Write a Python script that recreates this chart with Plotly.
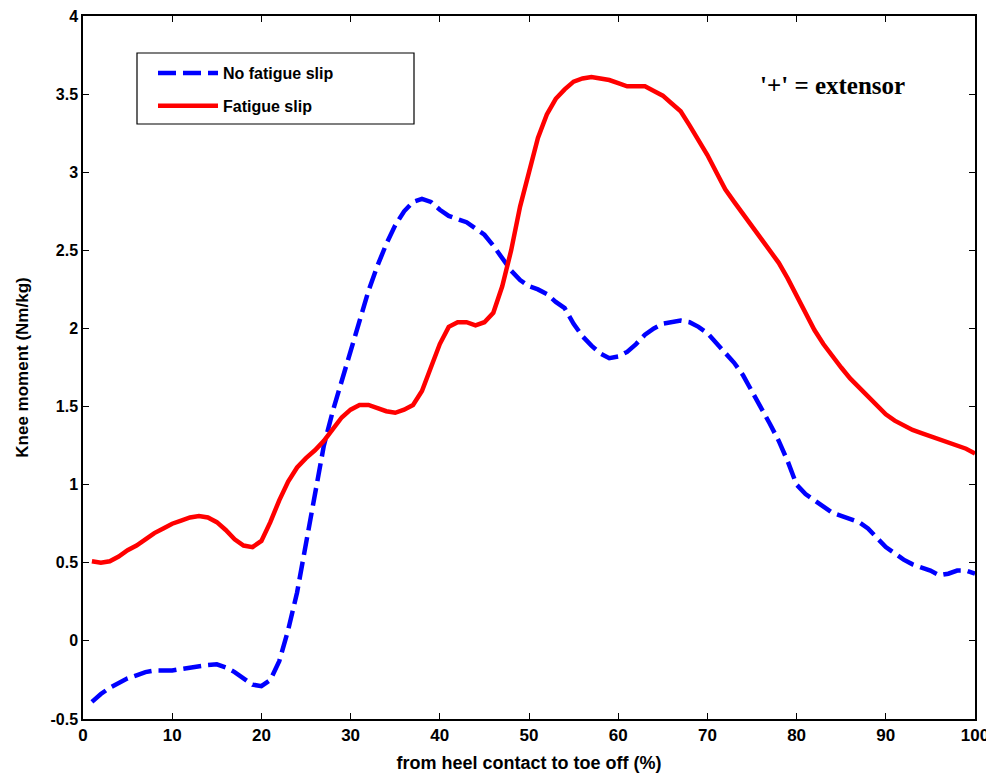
import plotly.graph_objects as go

x_pct = list(range(1, 101))

no_fatigue = [
    -0.39, -0.34, -0.30, -0.27, -0.24, -0.22, -0.20, -0.19, -0.19, -0.19,
    -0.18, -0.17, -0.16, -0.155, -0.15, -0.17, -0.20, -0.24, -0.28, -0.29,
    -0.25, -0.13, 0.07, 0.31, 0.62, 0.95, 1.25, 1.47, 1.66, 1.87,
    2.06, 2.24, 2.40, 2.54, 2.66, 2.75, 2.81, 2.83, 2.81, 2.76,
    2.72, 2.70, 2.68, 2.64, 2.60, 2.53, 2.45, 2.37, 2.31, 2.27,
    2.25, 2.22, 2.17, 2.13, 2.03, 1.95, 1.89, 1.84, 1.81, 1.82,
    1.85, 1.90, 1.96, 2.00, 2.03, 2.04, 2.05, 2.04, 2.01, 1.97,
    1.91, 1.85, 1.78, 1.70, 1.60, 1.50, 1.39, 1.28, 1.15, 1.00,
    0.94, 0.90, 0.86, 0.82, 0.80, 0.78, 0.76, 0.72, 0.66, 0.60,
    0.56, 0.52, 0.49, 0.47, 0.45, 0.42, 0.43, 0.45, 0.45, 0.43,
]

fatigue = [
    0.51, 0.50, 0.51, 0.54, 0.58, 0.61, 0.65, 0.69, 0.72, 0.75,
    0.77, 0.79, 0.80, 0.79, 0.76, 0.71, 0.65, 0.61, 0.60, 0.64,
    0.76, 0.90, 1.02, 1.11, 1.17, 1.22, 1.28, 1.35, 1.43, 1.48,
    1.51, 1.51, 1.49, 1.47, 1.46, 1.48, 1.51, 1.60, 1.75, 1.90,
    2.01, 2.04, 2.04, 2.02, 2.04, 2.10, 2.27, 2.50, 2.78, 3.00,
    3.22, 3.37, 3.47, 3.53, 3.58, 3.60, 3.61, 3.60, 3.59, 3.57,
    3.55, 3.55, 3.55, 3.52, 3.49, 3.44, 3.39, 3.30, 3.21, 3.11,
    3.00, 2.89, 2.81, 2.73, 2.66, 2.58, 2.50, 2.42, 2.32, 2.21,
    2.09, 1.99, 1.90, 1.82, 1.75, 1.68, 1.62, 1.56, 1.51, 1.45,
    1.41, 1.38, 1.35, 1.33, 1.31, 1.29, 1.27, 1.25, 1.23, 1.20,
]

x_ticks = [0, 10, 20, 30, 40, 50, 60, 70, 80, 90, 100]
x_ticktext = [str(v) for v in x_ticks]
y_ticks = [-0.5, 0, 0.5, 1, 1.5, 2, 2.5, 3, 3.5, 4]
y_ticktext = ["-0.5", "0", "0.5", "1", "1.5", "2", "2.5", "3", "3.5", "4"]

series_names = ["No fatigue slip", "Fatigue slip"]
annotation_text = "'+' = extensor"
x_title = "from heel contact to toe off (%)"
y_title = "Knee moment (Nm/kg)"

SANS = "Liberation Sans, Arial, sans-serif"

fig = go.Figure()
fig.add_trace(go.Scatter(
    x=x_pct, y=no_fatigue, mode="lines", name="<b>" + series_names[0] + "</b>",
    legendgroup="a",
    line=dict(color="#0000FF", width=4.5, dash="18px,7px"),
))
fig.add_trace(go.Scatter(
    x=x_pct, y=fatigue, mode="lines", name="<b>" + series_names[1] + "</b>",
    legendgroup="b",
    line=dict(color="#FF0000", width=4.5),
))

# plot area (page px): left 83, right 975, top 16, bottom 719; page body margin is 8px
PL, PR, PT, PB = 83, 975, 16, 719
PW, PH = PR - PL, PB - PT

fig.update_layout(
    width=986, height=766,
    margin=dict(l=75, r=19, t=8, b=55, autoexpand=False),
    paper_bgcolor="white", plot_bgcolor="white",
    showlegend=True,
    legend=dict(
        x=(153 - PL) / PW, y=(PB - 56) / PH, xanchor="left", yanchor="top",
        bgcolor="rgba(0,0,0,0)", borderwidth=0,
        font=dict(family=SANS, size=16, color="black"),
        itemwidth=60, tracegroupgap=9, traceorder="grouped",
    ),
    xaxis=dict(
        range=[0, 100], tickvals=x_ticks, ticktext=["<b>%s</b>" % t for t in x_ticktext],
        ticks="inside", ticklen=6, tickcolor="black", tickwidth=1,
        showline=True, linecolor="black", linewidth=1.5, mirror="ticks",
        showgrid=False, zeroline=False, automargin=False, ticklabeloverflow="allow",
        tickfont=dict(family=SANS, size=17, color="black"),
        title=dict(text="<b>" + x_title + "</b>", font=dict(family=SANS, size=18, color="black"), standoff=12),
    ),
    yaxis=dict(
        range=[-0.5, 4], tickvals=y_ticks, ticktext=["<b>%s</b>" % t for t in y_ticktext],
        ticks="inside", ticklen=6, tickcolor="black", tickwidth=1,
        showline=True, linecolor="black", linewidth=1.5, mirror="ticks",
        showgrid=False, zeroline=False, automargin=False, ticklabeloverflow="allow",
        tickfont=dict(family=SANS, size=16, color="black"),
        title=dict(text="<b>" + y_title + "</b>", font=dict(family="Liberation Sans Narrow, Liberation Sans, Arial", size=17, color="black"), standoff=18),
    ),
    shapes=[dict(
        type="rect", xref="paper", yref="paper",
        x0=(137 - PL) / PW, x1=(414 - PL) / PW,
        y0=(PB - 124) / PH, y1=(PB - 53) / PH,
        line=dict(color="black", width=1.2), fillcolor="rgba(0,0,0,0)",
    )],
    annotations=[dict(
        text="<b>" + annotation_text + "</b>", xref="paper", yref="paper",
        x=(832 - PL) / PW, y=(PB - 85) / PH, xanchor="center", yanchor="middle",
        showarrow=False,
        font=dict(family="Liberation Serif, Times New Roman, serif", size=25, color="black"),
    )],
)

fig.write_html("out.html")
